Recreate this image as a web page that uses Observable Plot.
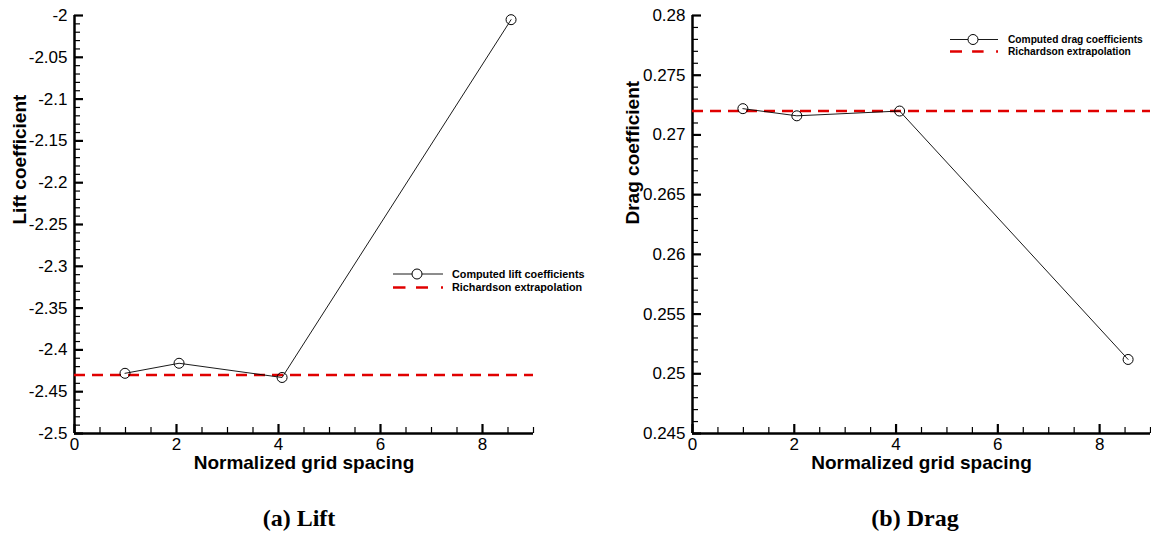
<!DOCTYPE html>
<html>
<head>
<meta charset="utf-8">
<script src="https://cdn.jsdelivr.net/npm/d3@7"></script>
<script src="https://cdn.jsdelivr.net/npm/@observablehq/plot@0.6"></script>
<style>
  html, body { margin: 0; padding: 0; background: white; }
  #wrap { position: relative; width: 1151px; height: 536px; overflow: hidden; background: white; }
  .panel { position: absolute; top: 0; }
  #overlay { position: absolute; left: 0; top: 0; pointer-events: none; }
  .panel svg g[aria-label="y-axis tick label"] text,
  .panel svg g[aria-label="x-axis tick label"] text {
    font-size: 17px !important;
    font-family: 'Liberation Sans', Arial, sans-serif !important;
    font-variant: normal !important;
  }
</style>
</head>
<body>
<div id="wrap">
  <div id="left" class="panel" style="left:0px"></div>
  <div id="right" class="panel" style="left:575px"></div>
  <svg id="overlay" width="1151" height="536"></svg>
</div>
<script>
// ---- data ----
const gridSpacing = [0.99, 2.05, 4.07, 8.56];
const liftCoef = [-2.428, -2.416, -2.433, -2.005];
const dragCoef = [0.2722, 0.2716, 0.2720, 0.2512];
const liftRichardson = -2.430;
const dragRichardson = 0.2720;

const xTicks = [0, 2, 4, 6, 8];
const liftTicks = [-2.5, -2.45, -2.4, -2.35, -2.3, -2.25, -2.2, -2.15, -2.1, -2.05, -2];
const dragTicks = [0.245, 0.25, 0.255, 0.26, 0.265, 0.27, 0.275, 0.28];

const xLabel = "Normalized grid spacing";
const liftLabel = "Lift coefficient";
const dragLabel = "Drag coefficient";
const liftLegend = ["Computed lift coefficients", "Richardson extrapolation"];
const dragLegend = ["Computed drag coefficients", "Richardson extrapolation"];
const captions = ["(a) Lift", "(b) Drag"];

const RED = "#e00000";
const H = 480;

function minorOf(lo, hi, count, majors) {
  const step = Math.abs(majors[1] - majors[0]);
  return d3.ticks(lo, hi, count).filter(v => !majors.some(m => Math.abs(m - v) < step * 1e-3));
}

function panel({width, marginLeft, marginRight, yDomain, yTicks, yCount, values, rich, ylabel, ylabelDx}) {
  const marginTop = 15, marginBottom = H - 433;
  const plotW = width - marginLeft - marginRight;
  const plotH = H - marginTop - marginBottom;
  const rows = gridSpacing.map((x, i) => ({x, y: values[i]}));
  const xMinor = minorOf(0, 9, 18, xTicks);
  const yMinor = minorOf(yDomain[0], yDomain[1], yCount, yTicks);
  const fmt = d => String(d);
  return Plot.plot({
    width, height: H, marginLeft, marginRight, marginTop, marginBottom,
    style: {fontFamily: "'Liberation Sans', Arial, sans-serif", fontSize: "17px", background: "white", color: "black", overflow: "visible"},
    x: {domain: [0, 9]},
    y: {domain: yDomain},
    marks: [
      Plot.tickY(yMinor, {y: d => d, insetRight: plotW - 6, stroke: "black", strokeWidth: 1.2}),
      Plot.tickY(yTicks, {y: d => d, insetRight: plotW - 9, stroke: "black", strokeWidth: 2.2}),
      Plot.tickX(xMinor, {x: d => d, insetTop: plotH - 6, stroke: "black", strokeWidth: 1.2}),
      Plot.tickX(xTicks, {x: d => d, insetTop: plotH - 9, stroke: "black", strokeWidth: 2.2}),
      Plot.axisY(yTicks, {tickSize: 0, tickPadding: 7, tickFormat: fmt, label: null, fontSize: 17}),
      Plot.axisX(xTicks, {tickSize: 0, tickPadding: 4, tickFormat: fmt, label: null, fontSize: 17}),
      Plot.ruleX([0], {stroke: "black", strokeWidth: 2.5}),
      Plot.ruleY([yDomain[0]], {stroke: "black", strokeWidth: 2.5}),
      Plot.ruleY([rich], {y: d => d, stroke: RED, strokeWidth: 2.5, strokeDasharray: "11,7"}),
      Plot.line(rows, {x: "x", y: "y", stroke: "black", strokeWidth: 0.9}),
      Plot.dot(rows, {x: "x", y: "y", r: 5, stroke: "black", strokeWidth: 1, fill: "none"}),
      Plot.text([ylabel], {text: d => d, frameAnchor: "left", dx: ylabelDx, rotate: -90, fontWeight: "bold", fontSize: 19}),
      Plot.text([xLabel], {text: d => d, frameAnchor: "bottom", dy: 35, fontWeight: "bold", fontSize: 19})
    ]
  });
}

document.getElementById("left").appendChild(panel({
  width: 575, marginLeft: 74, marginRight: 42,
  yDomain: [-2.5, -2], yTicks: liftTicks, yCount: 50,
  values: liftCoef, rich: liftRichardson, ylabel: liftLabel, ylabelDx: -55
}));
document.getElementById("right").appendChild(panel({
  width: 576, marginLeft: 117, marginRight: 1,
  yDomain: [0.245, 0.28], yTicks: dragTicks, yCount: 35,
  values: dragCoef, rich: dragRichardson, ylabel: dragLabel, ylabelDx: -60
}));

// ---- legends & captions ----
const ov = d3.select("#overlay");
function legend(x0, x1, xc, xt, y1, y2, labels, fs) {
  const g = ov.append("g");
  g.append("line").attr("x1", x0).attr("x2", x1).attr("y1", y1).attr("y2", y1).attr("stroke", "black").attr("stroke-width", 0.9);
  g.append("circle").attr("cx", xc).attr("cy", y1).attr("r", 5).attr("fill", "white").attr("stroke", "black");
  const w = x1 - x0;
  [[0, 0.25], [0.46, 0.7], [0.96, 1]].forEach(([a, b]) => {
    g.append("line").attr("x1", x0 + a * w).attr("x2", x0 + b * w).attr("y1", y2).attr("y2", y2)
      .attr("stroke", RED).attr("stroke-width", 2.5);
  });
  [y1, y2].forEach((y, i) => {
    g.append("text").attr("x", xt).attr("y", y).attr("dy", "0.36em")
      .attr("font-family", "'Liberation Sans', Arial, sans-serif").attr("font-weight", "bold").attr("font-size", fs)
      .text(labels[i]);
  });
}
legend(393, 443, 417, 452, 274, 287.5, liftLegend, 10.8);
legend(950, 998, 973, 1008, 39.5, 51.5, dragLegend, 10.2);

[[299, captions[0]], [915, captions[1]]].forEach(([x, t]) => {
  ov.append("text").attr("x", x).attr("y", 518).attr("dy", "0.35em").attr("text-anchor", "middle")
    .attr("font-family", "'Liberation Serif', 'Times New Roman', serif").attr("font-weight", "bold").attr("font-size", 24)
    .text(t);
});
</script>
</body>
</html>
